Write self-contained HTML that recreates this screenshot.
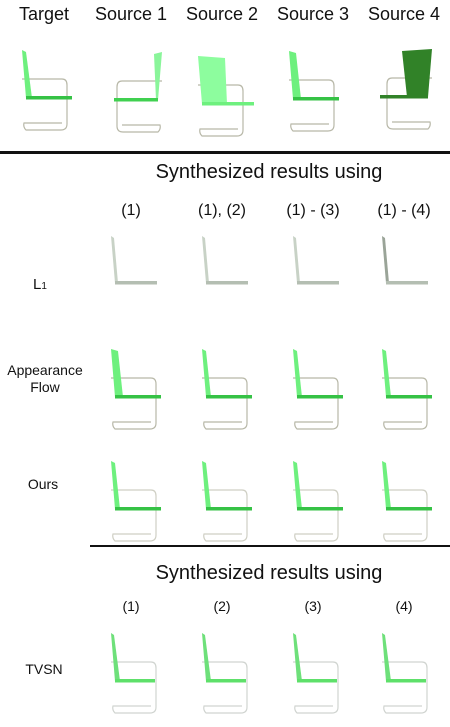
<!DOCTYPE html>
<html><head><meta charset="utf-8"><style>
html,body{margin:0;padding:0;background:#fff;width:450px;height:727px;overflow:hidden}
text{font-family:"Liberation Sans",sans-serif;fill:#111}
</style></head><body>
<svg id="fig" width="450" height="727" viewBox="0 0 450 727">
<g font-size="18" text-anchor="middle">
<text x="44" y="20">Target</text>
<text x="131" y="20">Source 1</text>
<text x="222" y="20">Source 2</text>
<text x="313" y="20">Source 3</text>
<text x="404" y="20">Source 4</text>
</g>
<rect x="0" y="151" width="450" height="3" fill="#111"/>
<text x="269" y="178" font-size="20" text-anchor="middle">Synthesized results using</text>
<g font-size="16" text-anchor="middle">
<text x="131" y="215">(1)</text>
<text x="222" y="215">(1), (2)</text>
<text x="313" y="215">(1) - (3)</text>
<text x="404" y="215">(1) - (4)</text>
</g>
<text x="40" y="289" font-size="15" text-anchor="middle">L<tspan font-size="10">1</tspan></text>
<text x="45" y="375" font-size="14" text-anchor="middle">Appearance</text>
<text x="45" y="392" font-size="14" text-anchor="middle">Flow</text>
<text x="43" y="489" font-size="14" text-anchor="middle">Ours</text>
<rect x="90" y="545" width="360" height="2" fill="#111"/>
<text x="269" y="579" font-size="20" text-anchor="middle">Synthesized results using</text>
<g font-size="14" text-anchor="middle">
<text x="131" y="611">(1)</text>
<text x="222" y="611">(2)</text>
<text x="313" y="611">(3)</text>
<text x="404" y="611">(4)</text>
</g>
<text x="44" y="674" font-size="14" text-anchor="middle">TVSN</text>
<g id="chairs"></g>
</svg>
<script>
const NS="http://www.w3.org/2000/svg";
const root=document.getElementById('chairs');
function el(t,a,p){const e=document.createElementNS(NS,t);for(const k in a)e.setAttribute(k,a[k]);p.appendChild(e);return e;}
// x0,y0 = top-left of back; bw = back width at top; col = back colour; seat colour; frame colour; mirror
function chair(name,x0,y0,o){
  const g=el('g',{transform:o.mirror?`translate(${2*x0+o.mw},0) scale(-1,1)`:''},root);
  
  
  const fc=o.frame||'#b8b8a8';
  if(o.frameOn!==false){
    el('path',{d:`M${x0} ${y0+29} L${x0+40} ${y0+29} Q${x0+45} ${y0+29} ${x0+45} ${y0+35} L${x0+45} ${y0+74} Q${x0+45} ${y0+80} ${x0+39} ${y0+80} L${x0+4} ${y0+80} Q${x0+1} ${y0+77} ${x0+2} ${y0+73} L${x0+40} ${y0+73}`,fill:'none',stroke:fc,'stroke-width':1.2},g);
  }
  const bw=o.bw||6, h=o.h||48;
  el('path',{d:`M${x0} ${y0} L${x0+bw} ${y0+2} L${x0+bw+o.slant} ${y0+h} L${x0+4} ${y0+h} Z`,fill:o.col},g);
  el('rect',{x:x0+4,y:y0+h-2,width:o.sw||46,height:3.5,fill:o.seat||'#33c040'},g);
}
const green={col:'#6ef07e',seat:'#35c245',slant:4};
chair('target-chair',22,50,{...green,bw:4,slant:6});
chair('source-1-chair',118,52,{col:'#8af59a',seat:'#40d050',bw:8,slant:-2,mirror:true,mw:44,sw:44});
chair('source-2-chair',198,56,{col:'#8dfd9e',seat:'#6ef07e',bw:27,slant:2,sw:52});
chair('source-3-chair',289,51,{...green,bw:7,slant:5});
chair('source-4-chair',380,49,{col:'#318228',seat:'#318228',bw:30,slant:-5,mirror:true,mw:52,sw:48});
const cols=[111,202,293,382];
cols.forEach((x,i)=>chair('l1-chair-'+(i+1),x,236,{col:i==3?'#9aa498':'#c8d2c6',seat:'#b4beb2',bw:3,slant:4,sw:42,frameOn:false,h:47}));
cols.forEach((x,i)=>chair('appearance-flow-chair-'+(i+1),x,349,{...green,bw:i==0?7:4,slant:5}));
cols.forEach((x,i)=>chair('ours-chair-'+(i+1),x,461,{...green,bw:4,slant:5,frame:'#cfcfc4'}));
cols.forEach((x,i)=>chair('tvsn-chair-'+(i+1),x,633,{col:'#6ee07a',seat:'#5ee06a',bw:3,slant:6,sw:40,frame:'#d0d4d0'}));
</script>
</body></html>
